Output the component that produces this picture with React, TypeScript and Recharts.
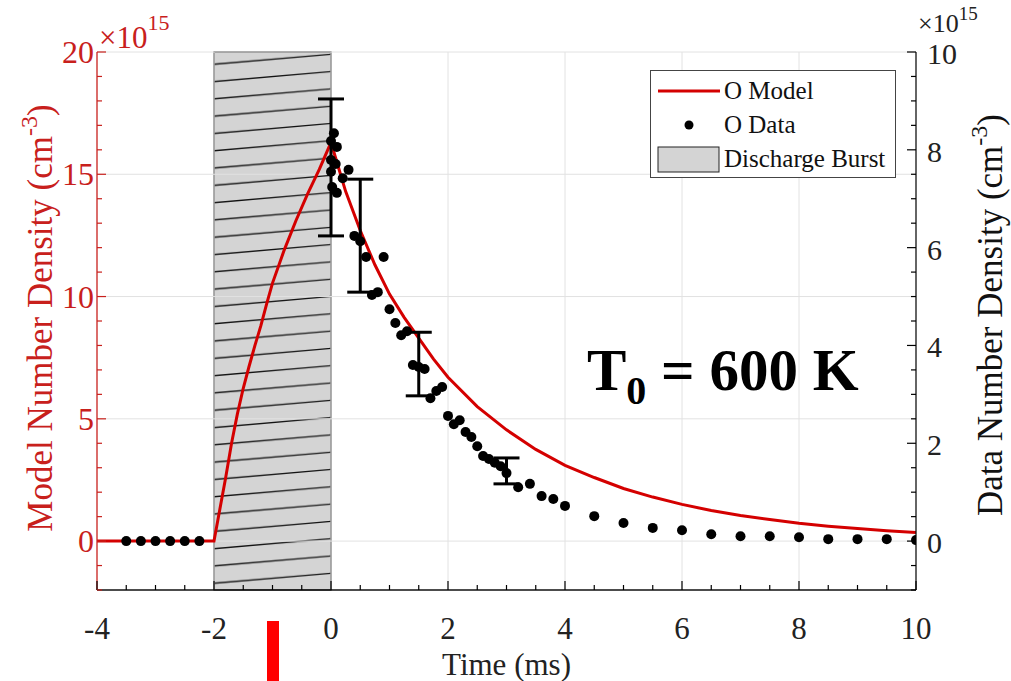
import React from 'react';
import { ComposedChart, Line, Scatter, ErrorBar, XAxis, YAxis, ReferenceArea, ReferenceLine, Legend } from 'recharts';

const FONT = '"Liberation Serif", "Times New Roman", serif';
const AXIS_RED = '#c8201c';
const MODEL_RED = '#d40000';

// model curve, left axis (x1e15 cm^-3)
const modelTime = [-4, -2, -1.9, -1.8, -1.7, -1.6, -1.5, -1.4, -1.3, -1.2, -1.1, -1.0, -0.8, -0.6, -0.4, -0.2, 0,
  0.25, 0.5, 0.75, 1.0, 1.25, 1.5, 1.75, 2.0, 2.5, 3.0, 3.5, 4.0, 4.5, 5.0, 5.5, 6.0, 6.5, 7.0, 7.5, 8.0, 8.5, 9.0, 9.5, 10];
const modelDensity = [0, 0, 1.3, 2.6, 4.0, 5.2, 6.25, 7.15, 8.0, 8.8, 9.7, 10.55, 11.9, 13.1, 14.2, 15.2, 16.3,
  14.3, 12.7, 11.3, 10.1, 9.15, 8.3, 7.45, 6.7, 5.5, 4.55, 3.75, 3.1, 2.6, 2.15, 1.8, 1.5, 1.25, 1.05, 0.88, 0.73, 0.61, 0.51, 0.42, 0.35];

// measured O density, right axis (x1e15 cm^-3)
const dataTime = [-3.5, -3.25, -3.0, -2.75, -2.5, -2.25,
  0.05, 0.0, 0.1, 0.0, 0.08, 0.0, 0.02, 0.1, 0.3, 0.2, 0.4, 0.5, 0.6, 0.9, 0.7, 0.8,
  1.0, 1.1, 1.2, 1.3, 1.4, 1.5, 1.6, 1.7, 1.8, 1.9, 2.0, 2.1, 2.2, 2.3, 2.4, 2.5, 2.6, 2.7, 2.8, 2.9, 3.0,
  3.2, 3.4, 3.6, 3.8, 4.0, 4.5, 5.0, 5.5, 6.0, 6.5, 7.0, 7.5, 8.0, 8.5, 9.0, 9.5, 10];
const dataDensity = [0, 0, 0, 0, 0, 0,
  8.34, 8.18, 8.06, 7.79, 7.71, 7.55, 7.24, 7.12, 7.59, 7.42, 6.24, 6.13, 5.81, 5.81, 5.03, 5.09,
  4.74, 4.46, 4.21, 4.29, 3.60, 3.56, 3.52, 2.92, 3.07, 3.15, 2.56, 2.39, 2.47, 2.23, 2.13, 1.94, 1.74, 1.68, 1.60, 1.53, 1.39,
  1.10, 1.17, 0.92, 0.86, 0.72, 0.51, 0.37, 0.27, 0.22, 0.14, 0.10, 0.10, 0.08, 0.04, 0.04, 0.04, 0.02];

// error bars, right axis
const errTime = [0, 0.5, 1.5, 3.0];
const errLow = [6.24, 5.09, 2.97, 1.17];
const errHigh = [9.04, 7.40, 4.27, 1.70];

// ticks
const xTicks = [-4, -3.5, -3, -2.5, -2, -1.5, -1, -0.5, 0, 0.5, 1, 1.5, 2, 2.5, 3, 3.5, 4, 4.5, 5, 5.5, 6, 6.5, 7, 7.5, 8, 8.5, 9, 9.5, 10];
const xLabels = [-4, -2, 0, 2, 4, 6, 8, 10];
const leftTicks = [-2, -1, 0, 1, 2, 3, 4, 5, 6, 7, 8, 9, 10, 11, 12, 13, 14, 15, 16, 17, 18, 19, 20];
const leftLabels = [0, 5, 10, 15, 20];
const rightTicks = [-1, -0.5, 0, 0.5, 1, 1.5, 2, 2.5, 3, 3.5, 4, 4.5, 5, 5.5, 6, 6.5, 7, 7.5, 8, 8.5, 9, 9.5, 10];
const rightLabels = [0, 2, 4, 6, 8, 10];
const gridX = [-2, 0, 2, 4, 6, 8];
const gridY = [0, 5, 10, 15, 20];

const modelData = modelTime.map((t, i) => ({ t, m: modelDensity[i] }));
const pointData = dataTime.map((t, i) => ({ t, v: dataDensity[i] }));
const errData = errTime.map((t, i) => {
  const c = (errLow[i] + errHigh[i]) / 2;
  return { t, v: c, err: [c - errLow[i], errHigh[i] - c] };
});

const XTick = (props: any) => {
  const { x, y, payload } = props;
  const major = xLabels.includes(payload.value);
  return (
    <g>
      <line x1={x} x2={x} y1={y} y2={y - (major ? 9 : 5)} stroke="#000" strokeWidth={1.2} />
      {major && (
        <text x={x} y={y + 49} textAnchor="middle" fontFamily={FONT} fontSize={31} fill="#222">{payload.value}</text>
      )}
    </g>
  );
};

const LeftTick = (props: any) => {
  const { x, y, payload } = props;
  const major = leftLabels.includes(payload.value);
  return (
    <g>
      <line x1={x} x2={x + (major ? 9 : 5)} y1={y} y2={y} stroke={AXIS_RED} strokeWidth={1.2} />
      {major && (
        <text x={x - 3} y={y + 11} textAnchor="end" fontFamily={FONT} fontSize={32} fill={AXIS_RED}>{payload.value}</text>
      )}
    </g>
  );
};

const RightTick = (props: any) => {
  const { x, y, payload } = props;
  const major = rightLabels.includes(payload.value);
  return (
    <g>
      <line x1={x} x2={x - (major ? 9 : 5)} y1={y} y2={y} stroke="#000" strokeWidth={1.2} />
      {major && (
        <text x={x + 11} y={y + 12} textAnchor="start" fontFamily={FONT} fontSize={30} fill="#222">{payload.value}</text>
      )}
    </g>
  );
};

const LeftAxisLabel = (props: any) => {
  const { x, y, width, height } = props.viewBox;
  const cx = x + 52;
  const cy = y + height / 2 - 3;
  return (
    <g fontFamily={FONT}>
      <text transform={`translate(${cx},${cy}) rotate(-90)`} textAnchor="middle" fontSize={35} fill={AXIS_RED}>
        Model Number Density (cm<tspan dy={-15} fontSize={24}>-3</tspan><tspan dy={15}>)</tspan>
      </text>
      <text x={x + width + 2} y={y - 4} fontSize={31} fill={AXIS_RED}>
        ×10<tspan dy={-18} fontSize={22}>15</tspan>
      </text>
    </g>
  );
};

const RightAxisLabel = (props: any) => {
  const { x, y, height } = props.viewBox;
  const cx = x + 86;
  const cy = y + height / 2 - 6;
  return (
    <g fontFamily={FONT}>
      <text transform={`translate(${cx},${cy}) rotate(-90)`} textAnchor="middle" fontSize={35} fill="#111">
        Data Number Density (cm<tspan dy={-15} fontSize={24}>-3</tspan><tspan dy={15}>)</tspan>
      </text>
      <text x={x + 2} y={y - 20} fontSize={26} fill="#222">
        ×10<tspan dy={-12} fontSize={19}>15</tspan>
      </text>
    </g>
  );
};

const XAxisLabel = (props: any) => {
  const { x, y, width } = props.viewBox;
  return (
    <text x={x + width / 2} y={y + 85} textAnchor="middle" fontFamily={FONT} fontSize={31} fill="#222">Time (ms)</text>
  );
};

// gray burst region with slanted hatch lines
const HatchArea = (props: any) => {
  const { x, y, width, height } = props;
  const step = 17.3;
  return (
    <g>
      <defs>
        <pattern id="burstHatch" patternUnits="userSpaceOnUse" x={x} y={y} width={width} height={step}>
          <rect x={0} y={0} width={width} height={step} fill="#d4d4d4" />
          <line x1={0} y1={12.3} x2={width} y2={2.3} stroke="#111" strokeWidth={1.3} />
        </pattern>
      </defs>
      <rect x={x} y={y} width={width} height={height} fill="url(#burstHatch)" stroke="#222" strokeWidth={1.2} />
    </g>
  );
};

const Dot = (props: any) => <circle cx={props.cx} cy={props.cy} r={5} fill="#000" />;
const NoDot = () => <g />;

const LegendBox = () => (
  <div style={{ width: 246, height: 108, border: '1px solid #444', background: '#fff', fontFamily: FONT, fontSize: 25, color: '#111', boxSizing: 'border-box' }}>
    {[
      { name: 'O Model', kind: 'line' },
      { name: 'O Data', kind: 'dot' },
      { name: 'Discharge Burst', kind: 'rect' },
    ].map((item) => (
      <div key={item.name} style={{ display: 'flex', alignItems: 'center', height: 34, marginTop: item.kind === 'line' ? 3 : 0 }}>
        <svg width={72} height={30} style={{ marginLeft: 5 }}>
          {item.kind === 'line' && <line x1={2} x2={64} y1={15} y2={15} stroke={MODEL_RED} strokeWidth={3} />}
          {item.kind === 'dot' && <circle cx={33} cy={15} r={4.5} fill="#000" />}
          {item.kind === 'rect' && <rect x={2} y={3} width={61} height={25} fill="#d4d4d4" stroke="#222" strokeWidth={1} />}
        </svg>
        <span style={{ marginLeft: -4, lineHeight: '30px' }}>{item.name}</span>
      </div>
    ))}
  </div>
);

export default function App() {
  return (
    <div style={{ position: 'absolute', left: 0, top: 0, width: 1011, height: 681, background: '#fff' }}>
      <ComposedChart width={1011} height={681} margin={{ top: 52, right: 0, bottom: 0, left: 0 }}>
        {gridX.map((v) => (
          <ReferenceLine key={`gx${v}`} x={v} xAxisId="x" yAxisId="left" stroke="#e2e2e2" strokeWidth={1} />
        ))}
        {gridY.map((v) => (
          <ReferenceLine key={`gy${v}`} y={v} xAxisId="x" yAxisId="left" stroke="#e2e2e2" strokeWidth={1} />
        ))}
        <ReferenceArea x1={-2} x2={0} y1={-2} y2={20} xAxisId="x" yAxisId="left" shape={HatchArea} ifOverflow="visible" />
        <XAxis
          xAxisId="x"
          type="number"
          dataKey="t"
          domain={[-4, 10]}
          allowDataOverflow
          ticks={xTicks}
          interval={0}
          height={91}
          tickSize={0}
          tickMargin={0}
          tickLine={false}
          tick={XTick}
          axisLine={{ stroke: '#111', strokeWidth: 1.3 }}
          label={XAxisLabel}
        />
        <YAxis
          yAxisId="left"
          type="number"
          domain={[-2, 20]}
          allowDataOverflow
          ticks={leftTicks}
          interval={0}
          width={97}
          tickSize={0}
          tickMargin={0}
          tickLine={false}
          tick={LeftTick}
          axisLine={{ stroke: AXIS_RED, strokeWidth: 1.3 }}
          label={LeftAxisLabel}
        />
        <YAxis
          yAxisId="right"
          orientation="right"
          type="number"
          dataKey="v"
          domain={[-1, 10]}
          allowDataOverflow
          ticks={rightTicks}
          interval={0}
          width={95}
          tickSize={0}
          tickMargin={0}
          tickLine={false}
          tick={RightTick}
          axisLine={{ stroke: '#111', strokeWidth: 1.3 }}
          label={RightAxisLabel}
        />
        <Line
          data={modelData}
          xAxisId="x"
          yAxisId="left"
          dataKey="m"
          type="linear"
          stroke={MODEL_RED}
          strokeWidth={3}
          dot={false}
          isAnimationActive={false}
          name="O Model"
        />
        <Scatter
          data={errData}
          xAxisId="x"
          yAxisId="right"
          dataKey="v"
          shape={NoDot}
          isAnimationActive={false}
          legendType="none"
        >
          <ErrorBar dataKey="err" direction="y" width={13} stroke="#000" strokeWidth={3} isAnimationActive={false} />
        </Scatter>
        <Scatter
          data={pointData}
          xAxisId="x"
          yAxisId="right"
          dataKey="v"
          shape={Dot}
          isAnimationActive={false}
          name="O Data"
        />
        <Legend
          layout="vertical"
          align="center"
          verticalAlign="middle"
          wrapperStyle={{ left: 650, top: 70, width: 246 }}
          content={LegendBox}
        />
      </ComposedChart>
      <svg width={1011} height={681} style={{ position: 'absolute', left: 0, top: 0, pointerEvents: 'none' }}>
        <text x={587} y={390} fontFamily={FONT} fontWeight="bold" fontSize={59} fill="#000">
          T<tspan dy={14} fontSize={40}>0</tspan><tspan dy={-14}> = 600 K</tspan>
        </text>
      </svg>
      <div style={{ position: 'absolute', left: 267, top: 621, width: 12, height: 60, background: '#ff0000' }} />
    </div>
  );
}
